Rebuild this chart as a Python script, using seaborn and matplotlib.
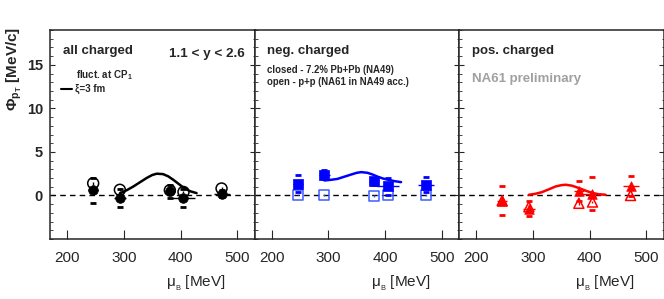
import matplotlib
matplotlib.use("Agg")
import matplotlib.pyplot as plt
import seaborn as sns
from matplotlib.ticker import MultipleLocator

# baryon chemical potential of the 5 energies
mu_b = [246, 293, 381, 405, 472]
mu_b_err = [9, 10, 9, 20, 14]

# all charged
all_closed = [0.6, -0.3, 0.5, -0.3, 0.2]
all_closed_stat = [0.5, 0.4, 0.5, 0.4, 0.3]
all_closed_sys = [1.45, 1.0, 0.75, 1.0, 0.4]
all_open = [1.4, 0.65, 0.6, 0.4, 0.8]
all_open_err = [0.15, 0.15, 0.15, 0.15, 0.15]

# negatively charged
neg_closed = [1.35, 2.4, 1.65, 1.05, 1.25]
neg_closed_stat = [0.35, 0.35, 0.35, 0.35, 0.35]
neg_closed_sys = [0.95, 0.5, 0.4, 0.95, 0.85]
neg_open = [0.1, 0.05, -0.1, 0.1, 0.05]
neg_open_err = [0.1, 0.1, 0.1, 0.1, 0.1]

# positively charged
pos_closed = [-0.6, -1.5, 0.5, 0.2, 1.05]
pos_closed_stat = [0.4, 0.4, 0.4, 0.4, 0.4]
pos_closed_sys = [1.7, 0.9, 1.15, 1.9, 1.15]
pos_open = [-0.6, -1.3, -0.9, -0.75, 0.0]
pos_open_err = [0.15, 0.15, 0.15, 0.15, 0.15]

# critical point model curves (xi = 3 fm)
mu_model = [293, 305, 316, 328, 340, 350, 358, 369, 378, 387, 396, 404, 416, 428]
all_model = [0.25, 0.6, 1.0, 1.5, 2.0, 2.35, 2.5, 2.45, 2.2, 1.8, 1.35, 0.95, 0.5, 0.27]
neg_model = [1.72, 1.8, 1.9, 2.15, 2.4, 2.6, 2.68, 2.6, 2.4, 2.15, 1.95, 1.82, 1.65, 1.53]
pos_model = [0.08, 0.2, 0.38, 0.7, 1.03, 1.18, 1.23, 1.12, 0.92, 0.7, 0.48, 0.3, 0.14, 0.08]

panels = [
    ("all charged", "black", "black", "o", all_closed, all_closed_stat, all_closed_sys,
     all_open, all_open_err, all_model),
    ("neg. charged", "#0000ff", "#3d5cff", "s", neg_closed, neg_closed_stat, neg_closed_sys,
     neg_open, neg_open_err, neg_model),
    ("pos. charged", "#ff0000", "#ff0000", "^", pos_closed, pos_closed_stat, pos_closed_sys,
     pos_open, pos_open_err, pos_model),
]

sns.set_style("ticks")
plt.rcParams['font.family'] = ['Liberation Sans', 'DejaVu Sans']
plt.rcParams['mathtext.fontset'] = 'custom'
plt.rcParams['mathtext.rm'] = 'Liberation Sans'
plt.rcParams['mathtext.it'] = 'Liberation Sans:italic'
plt.rcParams['mathtext.bf'] = 'Liberation Sans:bold'

fig = plt.figure(figsize=(6.64, 2.99), dpi=100)
W, H = 664, 299
left, pw = 50, 204.5
top, bottom = 30, 239

axes = []
for i, (title, c, c_open, mk, yc, ys, ysys, yo, yoe, ymod) in enumerate(panels):
    ax = fig.add_axes([(left + i * pw) / W, (H - bottom) / H, pw / W, (bottom - top) / H])
    axes.append(ax)
    ax.axhline(0, color='black', ls=(0, (4, 3)), lw=1, zorder=1)

    # model curve
    sns.lineplot(x=mu_model, y=ymod, ax=ax, color=c, lw=1.8, sort=False,
                 estimator=None, zorder=2)

    # open markers (p+p)
    ax.errorbar(mu_b, yo, yerr=yoe, fmt='none', ecolor=c_open, elinewidth=1, zorder=3)
    msz = 62 if mk == 'o' else 52
    sns.scatterplot(x=mu_b, y=yo, ax=ax, marker=mk, s=msz, facecolor='none',
                    edgecolor=c_open, linewidth=1.1, zorder=4)

    # closed markers (Pb+Pb)
    ax.errorbar(mu_b, yc, yerr=ys, xerr=mu_b_err, fmt='none', ecolor=c,
                elinewidth=1, zorder=5)
    lo = [v - s for v, s in zip(yc, ysys)]
    hi = [v + s for v, s in zip(yc, ysys)]
    ax.plot(mu_b + mu_b, lo + hi, ls='none', marker='_', ms=4, mew=2, color=c, zorder=5)
    sns.scatterplot(x=mu_b, y=yc, ax=ax, marker=mk, s=48, color=c,
                    edgecolor=c, linewidth=0.5, zorder=6)

    ax.set_xlim(170, 530)
    ax.set_ylim(-5, 19)
    ax.set_xticks([200, 300, 400, 500])
    ax.set_yticks([0, 5, 10, 15])
    ax.yaxis.set_minor_locator(MultipleLocator(1))
    ax.tick_params(axis='x', direction='in', length=6.5, width=0.8, labelsize=11, pad=9)
    ax.tick_params(axis='y', which='major', direction='in', length=3.5, width=0.8,
                   left=True, right=True, labelsize=10.5, pad=5)
    ax.tick_params(axis='y', which='minor', direction='in', length=1.8, width=0.6,
                   left=True, right=True)
    for sp in ax.spines.values():
        sp.set_visible(True)
        sp.set_linewidth(1.1)
    ax.set_xlabel("")
    ax.set_ylabel("")
    if i > 0:
        ax.tick_params(axis='y', labelleft=False)
    else:
        for lab in ax.get_yticklabels():
            lab.set_fontweight('bold')

    ax.text(0.063, 0.9, title, transform=ax.transAxes, fontsize=9.5,
            fontweight='bold', va='center', ha='left')
    ax.text(0.86, -0.165, r"μ$_{_\mathrm{B}}$ [MeV]", transform=ax.transAxes,
            fontsize=11, ha='right', va='top')

a0, a1, a2 = axes
a0.text(0.95, 0.885, "1.1 < y < 2.6", transform=a0.transAxes, fontsize=9.7,
        fontweight='bold', ha='right', va='center')
a0.text(0.125, 0.785, r"fluct. at CP$_\mathbf{1}$", transform=a0.transAxes,
        fontsize=7, fontweight='bold', ha='left', va='center')
a0.plot([0.055, 0.11], [0.72, 0.72], transform=a0.transAxes, color='black', lw=1.5)
a0.text(0.12, 0.72, "ξ=3 fm", transform=a0.transAxes, fontsize=7,
        fontweight='bold', ha='left', va='center')

a1.text(0.063, 0.81, "closed - 7.2% Pb+Pb (NA49)", transform=a1.transAxes,
        fontsize=6.9, fontweight='bold', ha='left', va='center')
a1.text(0.063, 0.753, "open - p+p (NA61 in NA49 acc.)", transform=a1.transAxes,
        fontsize=6.9, fontweight='bold', ha='left', va='center')

a2.text(0.063, 0.765, "NA61 preliminary", transform=a2.transAxes, fontsize=9.5,
        fontweight='bold', color='#a0a0a0', ha='left', va='center')

fig.text(14 / W, 1 - 27 / H, r"$\mathbf{\Phi_{p_T}}$ [MeV/c]", rotation=90,
         fontsize=11, fontweight='bold', ha='center', va='top')

fig.savefig("out.png", dpi=100)
